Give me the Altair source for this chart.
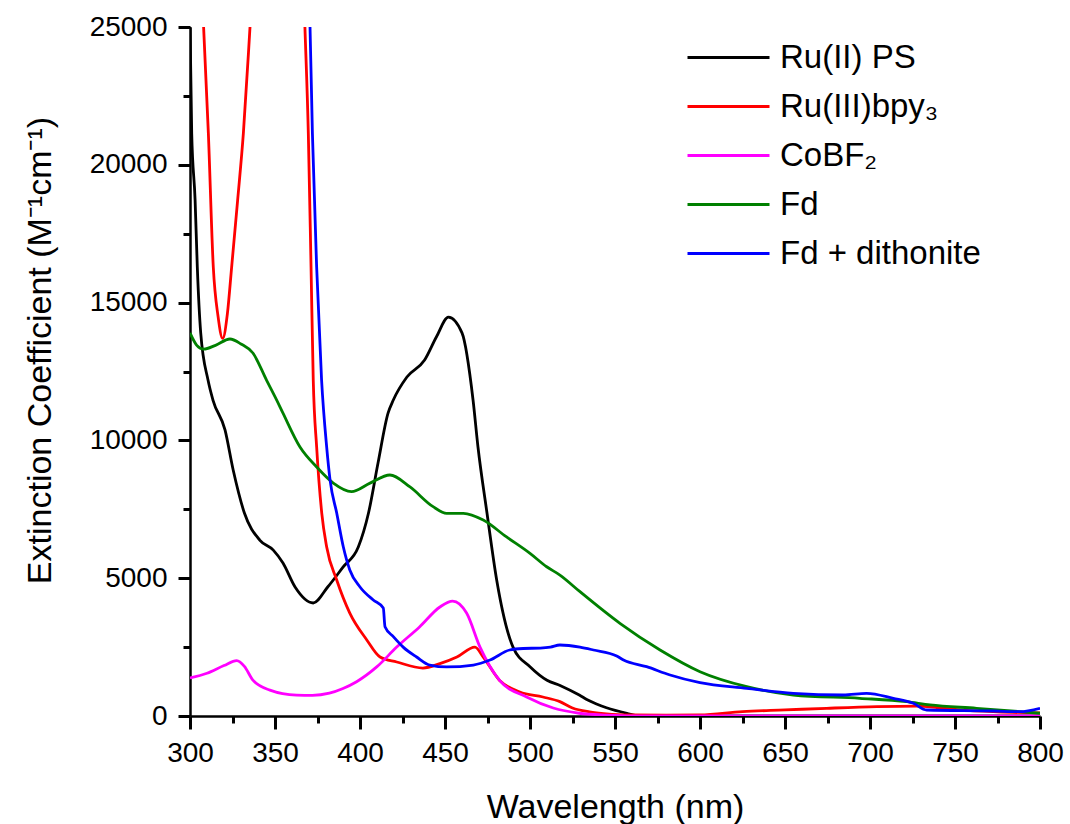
import altair as alt
import pandas as pd

series_names = ["Ru(II) PS", "Ru(III)bpy₃", "CoBF₂", "Fd", "Fd + dithonite"]
series_colors = ["#000000", "#FF0000", "#FF00FF", "#008000", "#0000FF"]

ru2_wl = [300, 301, 303, 304.3, 306.3, 310.6, 313.5, 320.6, 325.4, 332, 341, 349, 354.7, 361.8,
          372.5, 381, 390, 399, 405, 410.6, 416.5, 419.6, 427.6, 438, 445, 452, 460, 466.5,
          469.4, 474.7, 480.4, 490, 500, 510, 518, 529, 534, 545, 557, 565, 600, 700, 800]
ru2_eps = [25100, 21150, 18720, 16290, 13900, 12190, 11465, 10380, 8925, 7365, 6385, 6020, 5550, 4680,
           4100, 4680, 5400, 6130, 7365, 9180, 10990, 11465, 12300, 12915, 13760, 14475, 13900, 11465,
           9760, 7365, 4935, 2500, 1790, 1300, 1100, 760, 580, 300, 100, 0, 0, 0, 0]

ru3_wl = [305, 308, 310.8, 313.7, 316.5, 319.2, 322, 324.5, 328, 331.4, 335.3, 340, 350, 360, 366,
          367.6, 369.6, 371.2, 372.5, 374.5, 377.5, 380.4, 386.3, 394, 404, 411.8, 421.6, 437, 447,
          457, 467.6, 472.5, 482, 494, 507.6, 517.6, 525, 535, 545, 560, 580, 600, 625, 650, 674.5,
          704, 727.5, 740, 753, 775, 800]
ru3_eps = [28500, 25000, 21150, 16290, 14500, 13700, 14600, 16290, 18700, 21150, 25000, 30000, 40000, 35000, 28000,
           25000, 21150, 16290, 12190, 9760, 7365, 6130, 4935, 3735, 2760, 2140, 1960, 1740, 1900,
           2140, 2500, 2140, 1300, 870, 690, 520, 290, 150, 80, 40, 30, 40, 160, 220, 280,
           340, 360, 300, 220, 150, 110]

cobf_wl = [300, 310, 320, 327.5, 332, 337, 347, 362.7, 372, 382, 390, 398, 410, 421.6, 435, 447,
           454.5, 462.7, 470.6, 482, 498, 513.7, 529, 545, 560, 650, 800]
cobf_eps = [1380, 1550, 1830, 2010, 1800, 1300, 940, 760, 750, 830, 1000, 1245, 1790, 2500, 3230, 3955,
            4170, 3735, 2500, 1300, 690, 290, 100, 30, 0, 0, 0]

fd_wl = [300, 304, 308, 315, 323.5, 330, 337, 345, 351, 354.7, 364.7, 374.5, 384.3, 395, 405.9,
         417.6, 429.4, 443, 451, 460.8, 472.5, 486, 500, 509.8, 517.6, 529.4, 552.9, 576.5, 600,
         627.5, 654.9, 694, 721.6, 735.3, 762.7, 800]
fd_eps = [13900, 13450, 13310, 13450, 13680, 13500, 13170, 12190, 11465, 10990, 9760, 9035, 8450, 8140, 8450,
          8745, 8310, 7595, 7355, 7355, 7110, 6505, 5900, 5415, 5115, 4510, 3363, 2395, 1608,
          1065, 762, 642, 520, 400, 280, 100]

fdd_wl = [368, 370.6, 372, 374.5, 377.4, 380.4, 382.4, 386.3, 390.2, 394, 400, 407.8, 413.7, 414.7,
          419.6, 425.4, 433.3, 441, 451, 466.7, 476.5, 488, 496, 506, 512, 517.6, 529.4, 537.3,
          551, 555, 568.6, 582.4, 600, 627.5, 654.9, 684.3, 698, 713.7, 725.5, 733.3, 772.5, 788, 800]
fdd_eps = [28000, 25000, 21150, 16290, 12190, 9760, 8560, 7365, 6130, 5300, 4680, 4210, 3915, 3240,
           2880, 2500, 2140, 1850, 1780, 1850, 2030, 2395, 2450, 2465, 2500, 2576, 2500, 2395,
           2177, 2032, 1790, 1487, 1208, 1005, 823, 762, 823, 642, 460, 218, 181, 156, 280]

x_major = [300, 350, 400, 450, 500, 550, 600, 650, 700, 750, 800]
x_minor = [325, 375, 425, 475, 525, 575, 625, 675, 725, 775]
y_major = [0, 5000, 10000, 15000, 20000, 25000]
y_minor = [2500, 7500, 12500, 17500, 22500]

all_wl = [ru2_wl, ru3_wl, cobf_wl, fd_wl, fdd_wl]
all_eps = [ru2_eps, ru3_eps, cobf_eps, fd_eps, fdd_eps]

rows = []
for k, (name, wl, ep) in enumerate(zip(series_names, all_wl, all_eps)):
    for w, e in zip(wl, ep):
        rows.append({"wl": w, "eps": e, "series": name, "order": k})
df = pd.DataFrame(rows)

FONT = "Liberation Sans"

x_scale = alt.Scale(domain=[300, 800], nice=False, zero=False)
y_scale = alt.Scale(domain=[0, 25000], nice=False)

lines = alt.Chart(df).mark_line(clip=True, strokeWidth=2.8, interpolate="monotone").encode(
    x=alt.X("wl:Q", scale=x_scale,
            axis=alt.Axis(values=x_major, format="d", ticks=True, tickSize=13, tickWidth=3,
                          domainWidth=2.5, domainColor="#000000", tickColor="#000000",
                          labelFontSize=28, labelFont=FONT, labelColor="#000000",
                          labelPadding=10, grid=False, labelFlush=False, labelOverlap=False,
                          title="Wavelength (nm)", titleFont=FONT, titleFontSize=34,
                          titleFontWeight="normal", titleColor="#000000",
                          titleBaseline="alphabetic", titleY=101, titleX=425)),
    y=alt.Y("eps:Q", scale=y_scale,
            axis=alt.Axis(values=y_major, format="d", ticks=True, tickSize=12, tickWidth=3,
                          domainWidth=2.5, domainColor="#000000", tickColor="#000000",
                          labelFontSize=28, labelFont=FONT, labelColor="#000000",
                          labelPadding=11, grid=False, labelFlush=False, labelOverlap=False,
                          title="Extinction Coefficient (M⁻¹cm⁻¹)", titleFont=FONT,
                          titleFontSize=34, titleFontWeight="normal", titleColor="#000000",
                          titleAngle=-90, titleBaseline="middle", titleAlign="center",
                          titleX=-150, titleY=323)),
    color=alt.Color("series:N", scale=alt.Scale(domain=series_names, range=series_colors),
                    legend=alt.Legend(orient="none", legendX=522, legendY=14, title=None,
                                      symbolType="M-4.1,0H4.1", symbolSize=400,
                                      symbolStrokeWidth=3, labelFont=FONT, labelFontSize=33,
                                      labelColor="#000000", labelOffset=35, symbolOffset=0,
                                      rowPadding=15, labelLimit=500, padding=0)),
    order=alt.Order("order:Q"),
    detail="series:N",
)

minor = alt.Chart(df).mark_point(clip=True, opacity=0, size=1).encode(
    x=alt.X("wl:Q", scale=x_scale,
            axis=alt.Axis(orient="bottom", values=x_minor, tickSize=7, tickWidth=3,
                          domain=False, labels=False, tickColor="#000000", grid=False, title="")),
    y=alt.Y("eps:Q", scale=y_scale,
            axis=alt.Axis(orient="left", values=y_minor, tickSize=7, tickWidth=3,
                          domain=False, labels=False, tickColor="#000000", grid=False, title="")),
)

chart = alt.layer(lines, minor).resolve_axis(x="independent", y="independent").properties(
    width=850, height=689,
    padding={"left": 190, "top": 27, "right": 30, "bottom": 108},
    autosize=alt.AutoSizeParams(type="none"),
    background="white",
).configure_view(stroke=None)

chart.save("out.html", embed_options={"renderer": "svg", "actions": False})
